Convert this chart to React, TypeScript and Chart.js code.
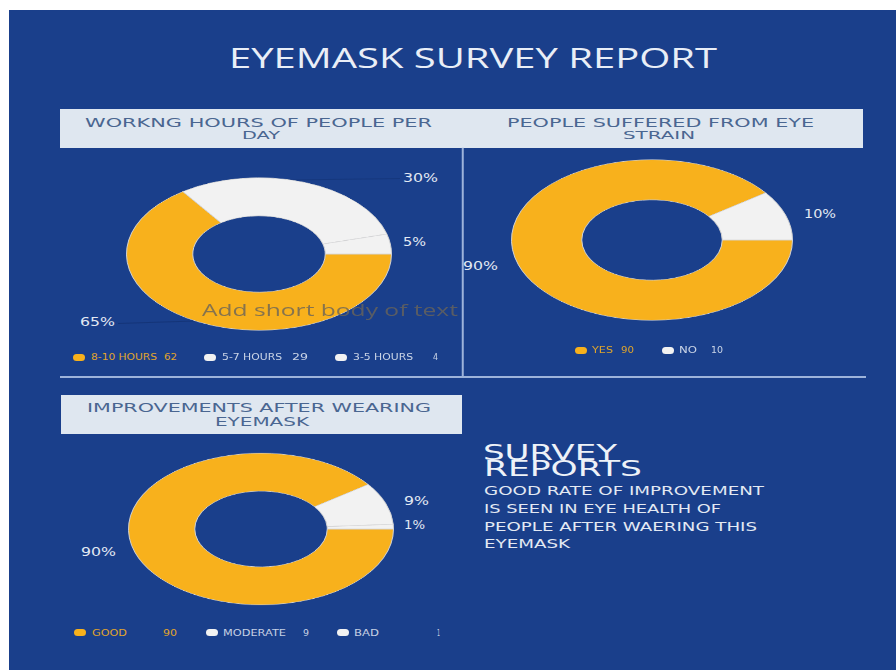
import React, { useEffect, useRef } from "react";
import { Chart, registerables } from "chart.js";

Chart.register(...registerables);

// ---------- data ----------
const workCategories = ["8-10 HOURS", "5-7 HOURS", "3-5 HOURS"];
const workValues = [62, 29, 4];
const workPctLabels = ["65%", "30%", "5%"];

const strainCategories = ["YES", "NO"];
const strainValues = [90, 10];
const strainPctLabels = ["90%", "10%"];

const improveCategories = ["GOOD", "MODERATE", "BAD"];
const improveValues = [90, 9, 1];
const improvePctLabels = ["90%", "9%", "1%"];

const titleText = "EYEMASK SURVEY REPORT";
const overlayText = "Add short body of text";
const surveyHeading = ["SURVEY", "REPORTS"];
const surveyBody = [
  "GOOD RATE OF IMPROVEMENT",
  "IS SEEN IN EYE HEALTH OF",
  "PEOPLE AFTER WAERING THIS",
  "EYEMASK",
];

// ---------- styling ----------
const BLUE = "#1a3f8b";
const YELLOW = "#f8b11c";
const WHITE = "#f2f2f2";
const LIGHT_TEXT = "#e3e9f3";
const LEGEND_TEXT = "rgba(225,232,243,0.88)";
const LEGEND_YELLOW = "#e0a52c";
const BOX_BG = "#dfe7f0";
const BOX_TEXT = "#4a6691";
const LINE = "#9db3da";

const DJ = { family: '"DejaVu Sans"', capRatio: 0.729, capOff: 0.117 };
const OS = { family: '"Open Sans"', capRatio: 0.714, capOff: 0.174 };

const measureCtx = document.createElement("canvas").getContext("2d");
function measure(text, font) {
  measureCtx.font = font;
  return measureCtx.measureText(text).width;
}

function T({ text, x, capTop, capH, w, f = DJ, color = LIGHT_TEXT, weight = 400 }) {
  const size = capH / f.capRatio;
  const nat = measure(text, `${weight} ${size}px ${f.family}`);
  const sx = w ? w / nat : 1;
  return (
    <div
      style={{
        position: "absolute",
        left: x,
        top: capTop - f.capOff * size,
        fontFamily: f.family,
        fontSize: size + "px",
        fontWeight: weight,
        lineHeight: size + "px",
        whiteSpace: "nowrap",
        color,
        transform: `scaleX(${sx})`,
        transformOrigin: "left top",
      }}
    >
      {text}
    </div>
  );
}

function Donut({ labels, values, colors, cx, cy, rx, ry }) {
  const ref = useRef(null);
  const S = Math.round(2 * rx + 2);
  useEffect(() => {
    const chart = new Chart(ref.current, {
      type: "doughnut",
      data: {
        labels,
        datasets: [
          {
            data: values,
            backgroundColor: colors,
            borderColor: "#d4d4d4",
            borderWidth: 1,
          },
        ],
      },
      options: {
        responsive: false,
        animation: false,
        cutout: "50%",
        rotation: 90,
        layout: { padding: 0 },
        plugins: { legend: { display: false }, tooltip: { enabled: false } },
      },
    });
    return () => chart.destroy();
  }, []);
  return (
    <div
      style={{
        position: "absolute",
        left: cx - S / 2,
        top: cy - S / 2,
        width: S,
        height: S,
        transform: `scaleY(${ry / rx})`,
        transformOrigin: "50% 50%",
      }}
    >
      <canvas ref={ref} width={S} height={S} style={{ display: "block" }} />
    </div>
  );
}

function Dot({ x, cy, color }) {
  return (
    <div
      style={{
        position: "absolute",
        left: x,
        top: cy - 3.5,
        width: 12,
        height: 7,
        borderRadius: 4,
        background: color,
      }}
    />
  );
}

function Legend({ cats, vals, cy, items }) {
  // items: [dotX, labelX, labelW, valueX, valueW]
  return (
    <>
      {items.map((it, i) => {
        const color = i === 0 ? LEGEND_YELLOW : LEGEND_TEXT;
        return (
          <React.Fragment key={i}>
            <Dot x={it[0]} cy={cy} color={i === 0 ? YELLOW : WHITE} />
            <T text={cats[i]} x={it[1]} capTop={cy - 3} capH={6} w={it[2]} color={color} />
            <T text={String(vals[i])} x={it[3]} capTop={cy - 3} capH={6} w={it[4]} color={color} />
          </React.Fragment>
        );
      })}
    </>
  );
}

function Line({ x1, y1, x2, y2, color = LINE, t = 1.5 }) {
  const len = Math.hypot(x2 - x1, y2 - y1);
  const ang = (Math.atan2(y2 - y1, x2 - x1) * 180) / Math.PI;
  return (
    <div
      style={{
        position: "absolute",
        left: x1,
        top: y1 - t / 2,
        width: len,
        height: t,
        background: color,
        transform: `rotate(${ang}deg)`,
        transformOrigin: "0 50%",
      }}
    />
  );
}

export default function App() {
  return (
    <div style={{ position: "absolute", left: 0, top: 0, width: 896, height: 670, background: "#fff", overflow: "hidden" }}>
      <div style={{ position: "absolute", left: 9, top: 10, width: 887, height: 660, background: BLUE }} />

      <T text={titleText} x={229} capTop={48} capH={20} w={488} f={OS} color="#e9eef7" />

      {/* header boxes */}
      <div style={{ position: "absolute", left: 60, top: 109, width: 803, height: 39, background: BOX_BG }} />
      <T text="WORKNG HOURS OF PEOPLE PER" x={85} capTop={119} capH={8.5} w={347} color={BOX_TEXT} />
      <T text="DAY" x={242} capTop={132.5} capH={8} w={38} color={BOX_TEXT} />
      <T text="PEOPLE SUFFERED FROM EYE" x={507} capTop={118} capH={9} w={307} color={BOX_TEXT} />
      <T text="STRAIN" x={623} capTop={132} capH={8} w={72} color={BOX_TEXT} />

      <div style={{ position: "absolute", left: 61, top: 395, width: 401, height: 39, background: BOX_BG }} />
      <T text="IMPROVEMENTS AFTER WEARING" x={87} capTop={403} capH={9} w={344} color={BOX_TEXT} />
      <T text="EYEMASK" x={215} capTop={417} capH={9} w={94} color={BOX_TEXT} />

      {/* dividers */}
      <Line x1={463} y1={148} x2={463} y2={377} />
      <Line x1={60} y1={377} x2={866} y2={377} />

      {/* donut 1 */}
      <Line x1={248} y1={180} x2={400} y2={178} color="rgba(10,30,80,0.22)" t={1} />
      <Line x1={118} y1={323} x2={240} y2={319} color="rgba(10,30,80,0.3)" t={1} />
      <Donut labels={workCategories} values={workValues} colors={[YELLOW, WHITE, WHITE]} cx={258.5} cy={254} rx={132} ry={76} />
      <T text={workPctLabels[1]} x={403} capTop={174.5} capH={8.5} w={35} />
      <T text={workPctLabels[2]} x={403} capTop={238.5} capH={8.5} w={23} />
      <T text={workPctLabels[0]} x={80} capTop={318.5} capH={8.5} w={35} />
      <T text={overlayText} x={202} capTop={305} capH={12} w={256} f={OS} color="rgba(105,100,90,0.8)" />
      <Legend
        cats={workCategories}
        vals={workValues}
        cy={357}
        items={[
          [73, 91, 66, 164, 13],
          [204, 222, 60, 292, 16],
          [335, 353, 60, 433, 5],
        ]}
      />

      {/* donut 2 */}
      <Donut labels={strainCategories} values={strainValues} colors={[YELLOW, WHITE]} cx={652} cy={240} rx={140} ry={80} />
      <T text={strainPctLabels[1]} x={804} capTop={210} capH={8.5} w={32} />
      <T text={strainPctLabels[0]} x={463} capTop={262} capH={8.5} w={35} />
      <Legend
        cats={strainCategories}
        vals={strainValues}
        cy={350}
        items={[
          [575, 592, 21, 621, 13],
          [662, 679, 18, 711, 12],
        ]}
      />

      {/* donut 3 */}
      <Donut labels={improveCategories} values={improveValues} colors={[YELLOW, WHITE, WHITE]} cx={261} cy={528.5} rx={132} ry={75.5} />
      <T text={improvePctLabels[1]} x={404} capTop={497} capH={8.5} w={25} />
      <T text={improvePctLabels[2]} x={404} capTop={521.5} capH={8.5} w={21} />
      <T text={improvePctLabels[0]} x={81} capTop={548.5} capH={8.5} w={35} />
      <Legend
        cats={improveCategories}
        vals={improveValues}
        cy={632.5}
        items={[
          [74, 92, 35, 163, 14],
          [206, 223, 63, 303, 6],
          [337, 354, 25, 437, 3],
        ]}
      />

      {/* survey text */}
      <T text={surveyHeading[0]} x={483} capTop={445} capH={15} w={134} color="#eef2f8" />
      <T text={surveyHeading[1]} x={484} capTop={461} capH={15} w={158} color="#eef2f8" />
      {surveyBody.map((line, i) => (
        <T
          key={i}
          text={line}
          x={484}
          capTop={[487, 505, 523, 540][i]}
          capH={8.5}
          w={[280, 237, 273, 86][i]}
        />
      ))}
    </div>
  );
}
